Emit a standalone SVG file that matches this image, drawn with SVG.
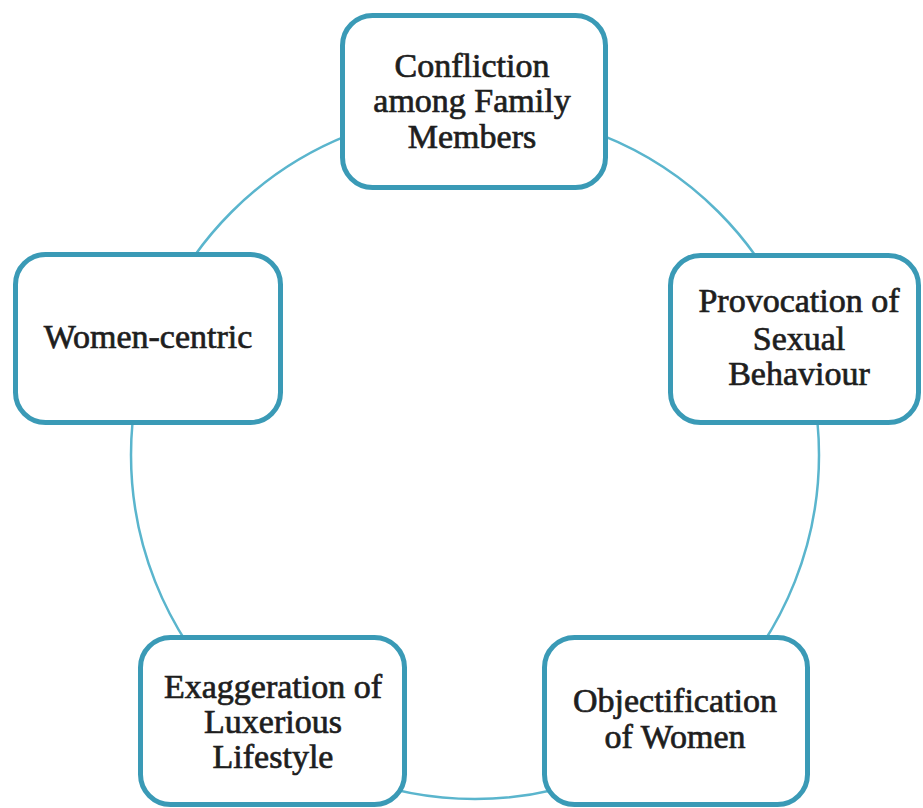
<svg xmlns="http://www.w3.org/2000/svg" width="923" height="808" viewBox="0 0 923 808">
<style>
.box{fill:#ffffff;stroke:#3a9ab6;stroke-width:5}
.ring{fill:none;stroke:#5ab5cd;stroke-width:2.5}
.t{font-family:"Liberation Serif","Times New Roman",serif;font-size:34px;fill:#1e1e1e;text-anchor:middle;stroke:#1e1e1e;stroke-width:0.7}
</style>
<rect width="923" height="808" fill="#ffffff"/>
<g id="connectors">
<circle class="ring" cx="475" cy="455" r="344"/>
</g>
<g id="node-conflict">
<rect class="box" x="342.5" y="15.5" width="263" height="172" rx="30"/>
<text class="t" x="472" y="77">Confliction</text>
<text class="t" x="472" y="112">among Family</text>
<text class="t" x="472" y="148">Members</text>
</g>
<g id="node-provocation">
<rect class="box" x="670.5" y="255.5" width="248" height="167" rx="30"/>
<text class="t" x="799" y="312">Provocation of</text>
<text class="t" x="799" y="350">Sexual</text>
<text class="t" x="799" y="385">Behaviour</text>
</g>
<g id="node-objectification">
<rect class="box" x="544.5" y="637.5" width="263" height="167" rx="30"/>
<text class="t" x="675" y="712">Objectification</text>
<text class="t" x="675" y="748">of Women</text>
</g>
<g id="node-exaggeration">
<rect class="box" x="140.5" y="637.5" width="264" height="167" rx="30"/>
<text class="t" x="273" y="698">Exaggeration of</text>
<text class="t" x="273" y="733">Luxerious</text>
<text class="t" x="273" y="768">Lifestyle</text>
</g>
<g id="node-women">
<rect class="box" x="15.5" y="254.5" width="265" height="168" rx="30"/>
<text class="t" x="148" y="348">Women-centric</text>
</g>
</svg>
